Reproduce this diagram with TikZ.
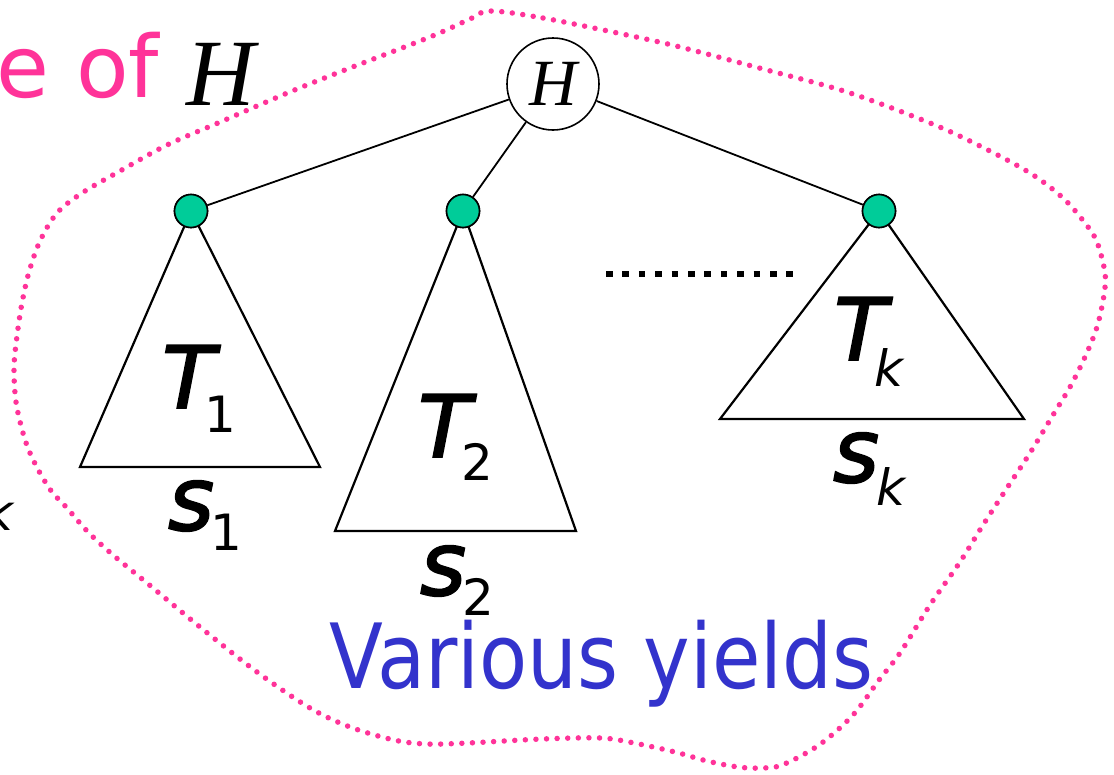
\documentclass[tikz,border=0pt]{standalone}
\usepackage{fontspec}
\setmainfont{DejaVu Sans}
\newfontfamily\serifH{Liberation Serif}
\newfontfamily\comicish[ItalicFeatures={FakeBold=2.2}]{DejaVu Sans}
\definecolor{hotpink}{HTML}{FF3399}
\definecolor{yieldblue}{HTML}{3333CC}
\definecolor{dotgreen}{HTML}{00CC99}
\tikzset{
  treeline/.style={line width=1.8pt, black},
  tri/.style={line width=2.2pt, black, line join=miter},
  kid/.style={circle, draw=black, line width=1.6pt, fill=dotgreen, minimum size=33pt, inner sep=0pt},
  root/.style={circle, draw=black, line width=1.6pt, fill=white, minimum size=92pt, inner sep=0pt,
               font=\serifH\itshape\fontsize{66}{66}\selectfont},
  bigT/.style={inner sep=0pt, anchor=base west, font=\comicish\itshape\fontsize{86}{86}\selectfont},
  bigS/.style={inner sep=0pt, anchor=base west, font=\comicish\itshape\fontsize{88}{88}\selectfont},
  subd/.style={inner sep=0pt, anchor=base west, font=\fontsize{50}{50}\selectfont},
  subk/.style={inner sep=0pt, anchor=base west, font=\itshape\fontsize{50}{50}\selectfont},
  pinkdots/.style={hotpink, line width=5.5pt, line cap=round, dash pattern=on 0pt off 10.6pt},
}
\begin{document}
\begin{tikzpicture}[x=1pt,y=-1pt]
\useasboundingbox (0,0) rectangle (1114,774);
\clip (0,0) rectangle (1114,774);
\fill[white] (0,0) rectangle (1114,774);

% dotted pink boundary
\draw[pinkdots] plot[smooth cycle, tension=0.55] coordinates {
 (490,11) (543,18) (627,35) (680,47) (763,69) (847,92) (930,123) (980,146) (1030,173)
 (1063,198) (1085,223) (1097,242) (1105,273) (1104,295) (1097,327) (1085,357) (1070,387)
 (1053,415) (1030,453) (1007,488) (983,525) (960,562) (930,605) (900,653) (879,680)
 (853,715) (819,745) (782,765) (760,768) (738,767) (707,761) (675,752) (634,743) (601,738)
 (542,739) (468,743) (427,744) (394,740) (350,727) (310,708) (257,672) (200,627) (147,583)
 (113,555) (88,532) (67,508) (52,492) (40,473) (30,453) (23,433) (16,402) (14,368) (17,336)
 (22,303) (29,272) (40,241) (57,213) (82,193) (120,171) (167,145) (218,123) (257,106)
 (297,89) (350,68) (430,37) (470,19)};

% title fragment
\node[inner sep=0pt, anchor=base west, text=hotpink, font=\fontsize{86}{86}\selectfont] (title) at (-4,97) {e of};
\node[inner sep=0pt, anchor=base west, font=\serifH\itshape\fontsize{95}{95}\selectfont] (titleH) at (186,105) {H};

% partial subscript at left edge
\node[subk] (leftk) at (-16,530) {k};

% tree nodes
\node[root] (h) at (553,84) {H};
\node[kid] (c1) at (191,211) {};
\node[kid] (c2) at (463,211) {};
\node[kid] (c3) at (879,211) {};

% triangle corners
\coordinate (b1l) at (80,467);  \coordinate (b1r) at (320,467);
\coordinate (b2l) at (335,531); \coordinate (b2r) at (576,531);
\coordinate (b3l) at (720,419); \coordinate (b3r) at (1024,419);

\draw[tri] (c1.center) -- (b1l) -- (b1r) -- cycle;
\draw[tri] (c2.center) -- (b2l) -- (b2r) -- cycle;
\draw[tri] (c3.center) -- (b3l) -- (b3r) -- cycle;

\draw[treeline] (h) -- (c1);
\draw[treeline] (h) -- (c2);
\draw[treeline] (h) -- (c3);

% redraw kids on top of triangle apexes
\node[kid] at (c1) {};
\node[kid] at (c2) {};
\node[kid] at (c3) {};

% labels
\node[bigT] (T1) at (162,408) {T};
\node[subd] (T1s) at (204,432) {1};
\node[bigS] (s1) at (168,530) {s};
\node[subd] (s1s) at (210,550) {1};

\node[bigT] (T2) at (418,457) {T};
\node[subd] (T2s) at (461,480) {2};
\node[bigS] (s2) at (420,595) {s};
\node[subd] (s2s) at (462,615) {2};

\node[bigT] (Tk) at (834,360) {T};
\node[subk] (Tks) at (874,386) {k};
\node[bigS] (sk) at (833,482) {s};
\node[subk] (sks) at (876,505) {k};

% ellipsis
\coordinate (ela) at (606,274);
\coordinate (elb) at (797,274);
\draw[line width=6.5pt, dash pattern=on 6.5pt off 9.9pt] (ela) -- (elb);

% caption
\node[inner sep=0pt, anchor=base west, text=yieldblue, font=\fontsize{90}{90}\selectfont] (cap) at (329,688) {\scalebox{0.875}[1]{Various yields}};
\end{tikzpicture}
\end{document}
